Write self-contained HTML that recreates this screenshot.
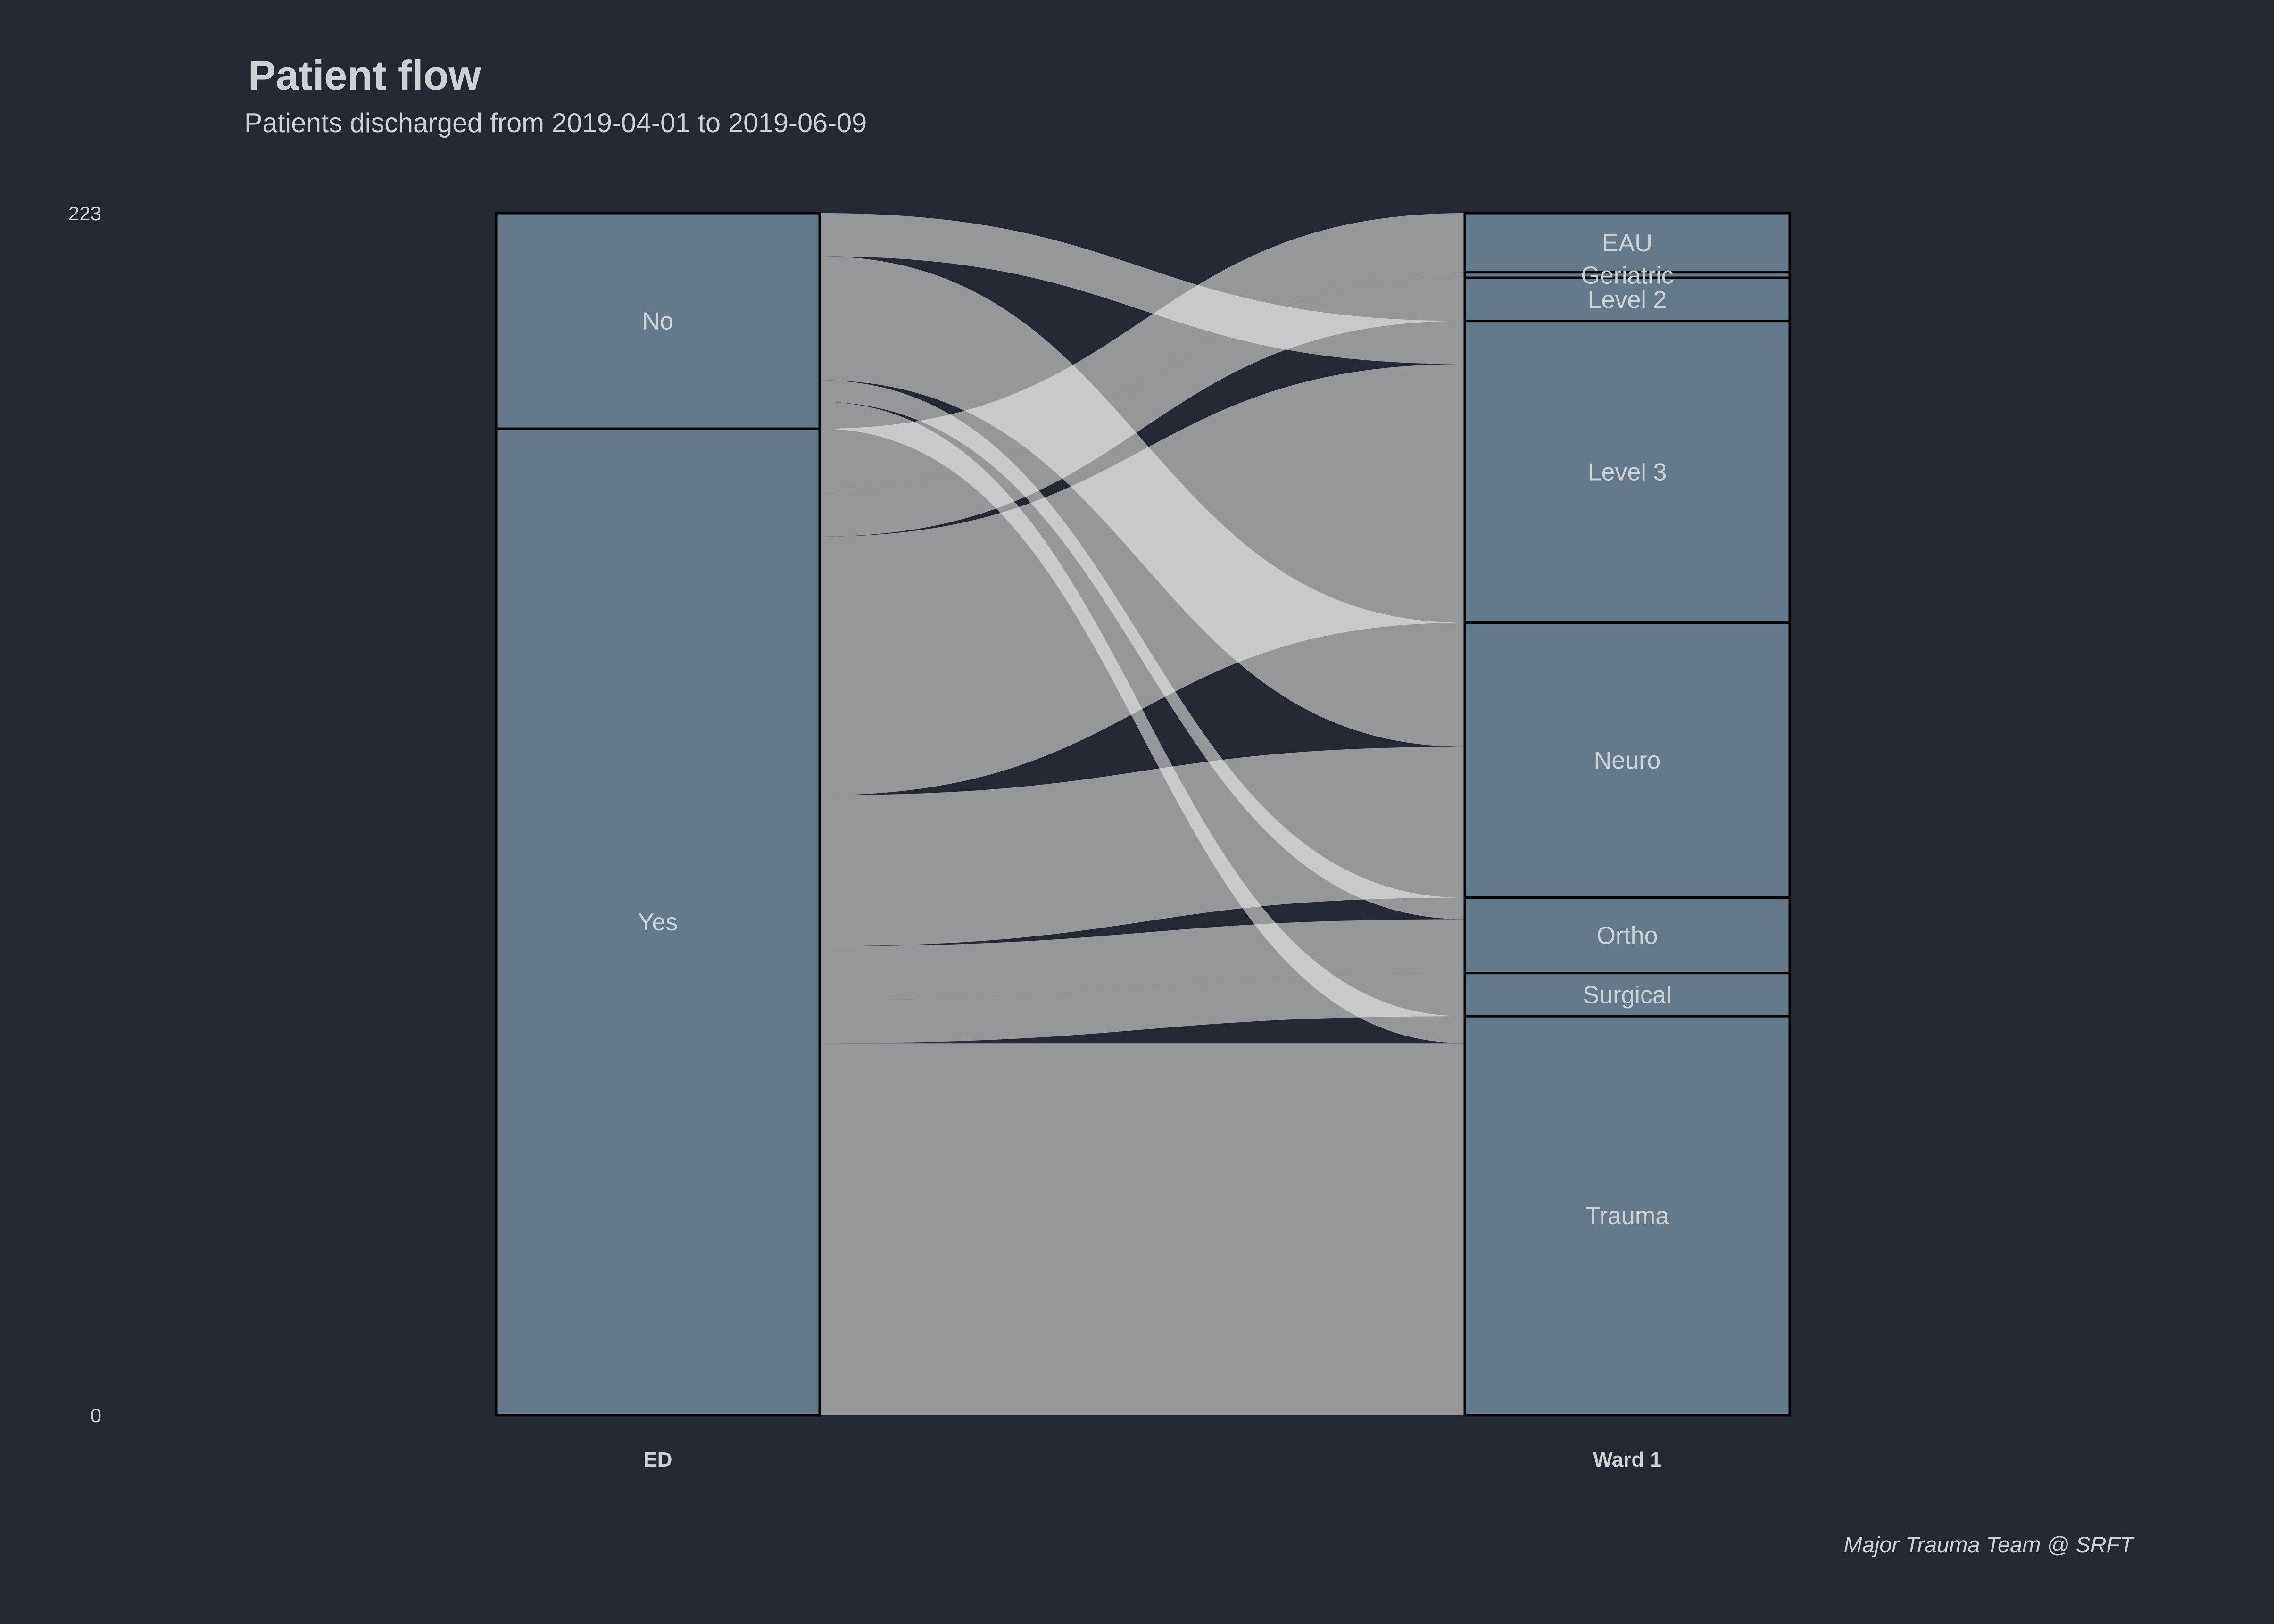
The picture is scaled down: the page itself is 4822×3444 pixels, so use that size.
<!DOCTYPE html>
<html><head><meta charset="utf-8">
<style>
html,body{margin:0;padding:0;background:#242832;}
svg{display:block;}
text{font-family:"Liberation Sans",sans-serif;}
</style></head>
<body>
<svg id="chart" width="4822" height="3444" viewBox="0 0 4822 3444" xmlns="http://www.w3.org/2000/svg">
<rect width="4822" height="3444" fill="#242832"/>
<text x="526" y="190" font-size="88" font-weight="bold" fill="#cfd0d2">Patient flow</text>
<text x="518" y="280" font-size="57.5" fill="#cfd0d2">Patients discharged from 2019-04-01 to 2019-06-09</text>
<text x="4524" y="3292" font-size="47" font-style="italic" fill="#cfd0d2" text-anchor="end">Major Trauma Team @ SRFT</text>
<g id="flows"></g>
<g id="strata"></g>
<g id="labels"></g>
<g id="axis"></g>
</svg>
<script>
const leftCats = ["No","Yes"];
const rightCats = ["EAU","Geriatric","Level 2","Level 3","Neuro","Ortho","Surgical","Trauma"];
const flowFrom = ["No","No","No","No","Yes","Yes","Yes","Yes","Yes","Yes","Yes","Yes"];
const flowTo   = ["Level 3","Neuro","Ortho","Trauma","EAU","Geriatric","Level 2","Level 3","Neuro","Ortho","Surgical","Trauma"];
const flowVal  = [8,23,4,5,11,1,8,48,28,10,8,69];
const axisLabels = ["ED","Ward 1"];
const tickVals = [0,223];

const NS="http://www.w3.org/2000/svg";
const total = flowVal.reduce((a,b)=>a+b,0);
const yTop=452, yBot=3001;
const y = v => yBot - (v/total)*(yBot-yTop);
const h = v => (v/total)*(yBot-yTop);
const LX0=1052, LX1=1738, RX0=3106, RX1=3795;
function mk(tag, attrs, parent){const e=document.createElementNS(NS,tag);for(const k in attrs)e.setAttribute(k,attrs[k]);parent.appendChild(e);return e;}

const lTot = leftCats.map(c=>flowVal.filter((v,i)=>flowFrom[i]===c).reduce((a,b)=>a+b,0));
const rTot = rightCats.map(c=>flowVal.filter((v,i)=>flowTo[i]===c).reduce((a,b)=>a+b,0));
const lStart=[];let acc=0;leftCats.forEach((c,i)=>{lStart.push(acc);acc+=lTot[i];});
const rStart=[];acc=0;rightCats.forEach((c,i)=>{rStart.push(acc);acc+=rTot[i];});

const idx = flowVal.map((v,i)=>i);
const lPos={},rPos={};
leftCats.forEach((c,ci)=>{let o=lStart[ci];idx.filter(i=>flowFrom[i]===c).sort((a,b)=>rightCats.indexOf(flowTo[a])-rightCats.indexOf(flowTo[b])).forEach(i=>{lPos[i]=o;o+=flowVal[i];});});
rightCats.forEach((c,ci)=>{let o=rStart[ci];idx.filter(i=>flowTo[i]===c).sort((a,b)=>leftCats.indexOf(flowFrom[a])-leftCats.indexOf(flowFrom[b])).forEach(i=>{rPos[i]=o;o+=flowVal[i];});});

const topY = u => yTop + (u/total)*(yBot-yTop);
const fg=document.getElementById('flows');
const mx=(LX1+RX0)/2;
idx.forEach(i=>{
  const a0=topY(lPos[i]), a1=topY(lPos[i]+flowVal[i]);
  const b0=topY(rPos[i]), b1=topY(rPos[i]+flowVal[i]);
  const d=`M${LX1},${a0} C${mx},${a0} ${mx},${b0} ${RX0},${b0} L${RX0},${b1} C${mx},${b1} ${mx},${a1} ${LX1},${a1} Z`;
  const p=mk('path',{d:d,fill:'#f3f3f3','fill-opacity':0.55},fg);
  
  
});

const sg=document.getElementById('strata');
const lg=document.getElementById('labels');
function stratum(x0,x1,start,val,label){
  const y0=topY(start), hh=h(val);
  const r=mk('rect',{x:x0,y:y0,width:x1-x0,height:hh,fill:'#627a8a',stroke:'#000',"stroke-width":5},sg);
  
  
  const t=mk('text',{x:(x0+x1)/2,y:y0+hh/2+18,'font-size':52,fill:'#cfd0d2','text-anchor':'middle'},lg);
  t.textContent=label;
  
  
}
leftCats.forEach((c,i)=>stratum(LX0,LX1,lStart[i],lTot[i],c));
rightCats.forEach((c,i)=>stratum(RX0,RX1,rStart[i],rTot[i],c));

const ag=document.getElementById('axis');
tickVals.forEach(v=>{
  const t=mk('text',{x:215,y:y(v)+15,'font-size':42,fill:'#cfd0d2','text-anchor':'end'},ag);
  t.textContent=String(v);
  
  
});
[[LX0,LX1],[RX0,RX1]].forEach((xs,i)=>{
  const t=mk('text',{x:(xs[0]+xs[1])/2,y:3110,'font-size':44,'font-weight':'bold',fill:'#cfd0d2','text-anchor':'middle'},ag);
  t.textContent=axisLabels[i];
  
  
});
</script>
</body></html>
